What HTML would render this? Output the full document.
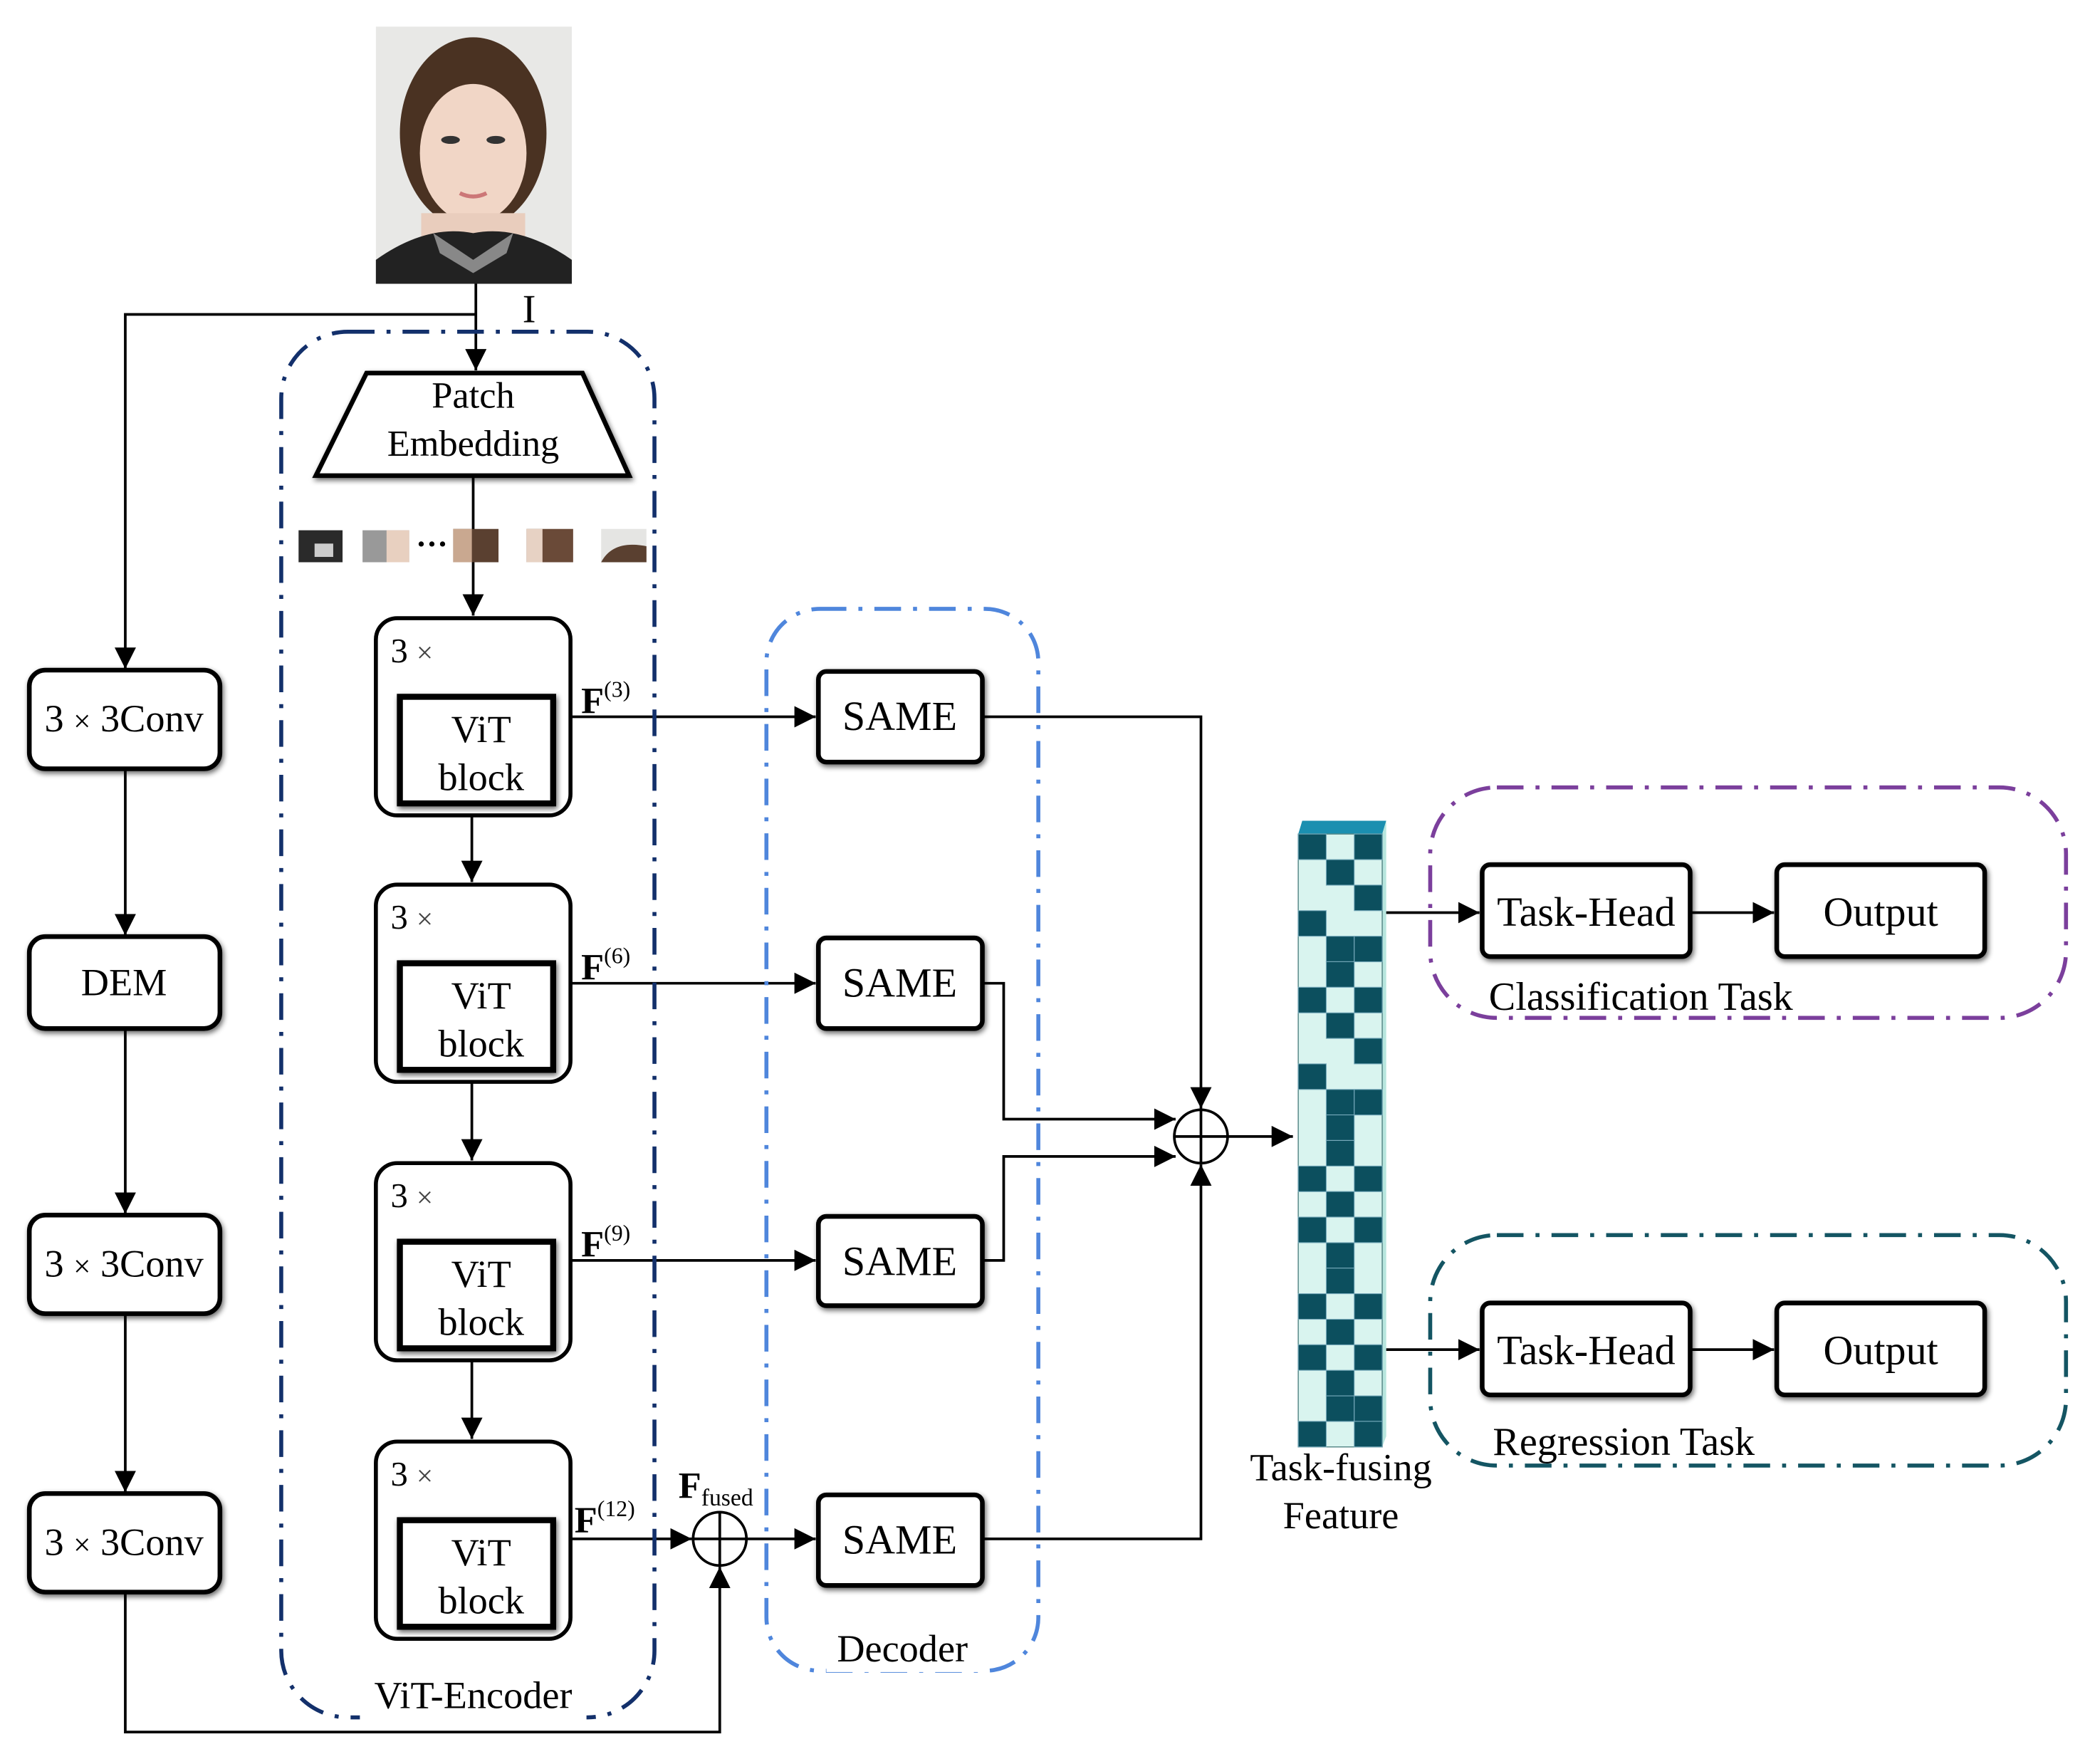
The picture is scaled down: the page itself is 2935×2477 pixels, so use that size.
<!DOCTYPE html>
<html><head><meta charset="utf-8"><style>
html,body{margin:0;padding:0;background:#fff}
svg{display:block}
text{font-family:"Liberation Serif",serif;fill:#000}
</style></head><body>
<svg width="2935" height="2477" viewBox="0 0 1568 1324" preserveAspectRatio="none" xmlns="http://www.w3.org/2000/svg">
<defs>
<marker id="b" viewBox="0 0 10 10" refX="10" refY="5" markerWidth="16" markerHeight="16" markerUnits="userSpaceOnUse" orient="auto"><path d="M0,0 L10,5 L0,10 z" fill="#000"/></marker>
<filter id="s" x="-10%" y="-10%" width="120%" height="120%"><feGaussianBlur in="SourceAlpha" stdDeviation="2"/><feOffset dx="1" dy="2"/><feComponentTransfer><feFuncA type="linear" slope="0.6"/></feComponentTransfer><feMerge><feMergeNode/><feMergeNode in="SourceGraphic"/></feMerge></filter>
</defs>

<rect x="282" y="20" width="147" height="193" fill="#e8e8e6"/>
<ellipse cx="355" cy="100" rx="55" ry="72" fill="#4a3222"/>
<ellipse cx="355" cy="115" rx="40" ry="52" fill="#f1d6c6"/>
<rect x="316" y="160" width="78" height="30" fill="#e9cdbd"/>
<path d="M282,213 L282,195 Q320,168 355,175 Q390,168 429,195 L429,213 z" fill="#222"/>
<path d="M325,175 L355,195 L385,175 L380,190 L355,205 L330,190z" fill="#888"/>
<ellipse cx="338" cy="105" rx="7" ry="3" fill="#333"/><ellipse cx="372" cy="105" rx="7" ry="3" fill="#333"/>
<path d="M345,145 Q355,150 365,145" stroke="#c77" stroke-width="3" fill="none"/>

<g stroke="#000" stroke-width="2" fill="none">
<path d="M357,213 V278" marker-end="url(#b)"/>
<path d="M357,236 H94 V502" marker-end="url(#b)"/>
<path d="M355,357 V398"/>
<path d="M355,422 V462" marker-end="url(#b)"/>
<path d="M354,612 V662" marker-end="url(#b)"/>
<path d="M354,812 V871" marker-end="url(#b)"/>
<path d="M354,1021 V1080" marker-end="url(#b)"/>
<path d="M94,577 V702" marker-end="url(#b)"/>
<path d="M94,772 V911" marker-end="url(#b)"/>
<path d="M94,986 V1120" marker-end="url(#b)"/>
<path d="M94,1195 V1300 H540 V1176" marker-end="url(#b)"/>
<path d="M428,538 H612" marker-end="url(#b)"/>
<path d="M428,738 H612" marker-end="url(#b)"/>
<path d="M428,946 H612" marker-end="url(#b)"/>
<path d="M428,1155 H519" marker-end="url(#b)"/>
<path d="M560,1155 H612" marker-end="url(#b)"/>
<path d="M737,538 H901 V832" marker-end="url(#b)"/>
<path d="M737,738 H753 V840 H882" marker-end="url(#b)"/>
<path d="M737,946 H753 V868 H882" marker-end="url(#b)"/>
<path d="M737,1155 H901 V874" marker-end="url(#b)"/>
<path d="M921,853 H970" marker-end="url(#b)"/>
<path d="M1037,685 H1110" marker-end="url(#b)"/>
<path d="M1268,685 H1331" marker-end="url(#b)"/>
<path d="M1037,1013 H1110" marker-end="url(#b)"/>
<path d="M1268,1013 H1331" marker-end="url(#b)"/>
<circle cx="540" cy="1155" r="20"/><path d="M520,1155 H560 M540,1135 V1175"/>
<circle cx="901" cy="853" r="20"/><path d="M881,853 H921 M901,833 V873"/>
</g>
<text x="392" y="242" font-size="30">I</text>

<g fill="none" stroke-width="3" stroke-dasharray="20 9 3 9">
<rect x="211" y="249" width="280" height="1040" rx="50" stroke="#13306b"/>
<rect x="575" y="457" width="204" height="797" rx="40" stroke="#4f86dc"/>
<rect x="1073" y="591" width="477" height="173" rx="50" stroke="#7b3f9c"/>
<rect x="1073" y="927" width="477" height="173" rx="50" stroke="#145563"/>
</g>
<rect x="270" y="1262" width="170" height="30" fill="#fff"/>
<text x="355" y="1282" font-size="29" text-anchor="middle">ViT-Encoder</text>
<rect x="620" y="1225" width="115" height="30" fill="#fff"/>
<text x="677" y="1247" font-size="29" text-anchor="middle">Decoder</text>
<text x="1117" y="758" font-size="30">Classification Task</text>
<text x="1120" y="1092" font-size="30">Regression Task</text>

<path d="M275,280 H437 L472,357 H237 Z" fill="#fff" stroke="#000" stroke-width="3.5" filter="url(#s)"/>
<text x="355" y="306" font-size="28" text-anchor="middle">Patch</text>
<text x="355" y="342" font-size="28" text-anchor="middle">Embedding</text>

<rect x="224" y="398" width="33" height="24" fill="#2a2a2a"/><rect x="236" y="408" width="14" height="10" fill="#ccc"/>
<rect x="272" y="398" width="35" height="24" fill="#999"/><rect x="290" y="398" width="17" height="24" fill="#e8d0c0"/>
<text x="324" y="416" font-size="24" text-anchor="middle" font-weight="bold">···</text>
<rect x="340" y="397" width="34" height="25" fill="#5a4030"/><rect x="340" y="397" width="14" height="25" fill="#c9a890"/>
<rect x="395" y="397" width="35" height="25" fill="#6a4a38"/><rect x="395" y="397" width="12" height="25" fill="#e7d2c4"/>
<rect x="451" y="397" width="34" height="25" fill="#e5e5e3"/><path d="M451,422 Q460,405 485,410 V422z" fill="#5a4030"/>

<g font-size="30">
<g transform="translate(0,0)">
<rect x="282" y="464" width="146" height="148" rx="16" fill="#fff" stroke="#000" stroke-width="3"/>
<rect x="300" y="523" width="115" height="80" fill="#fff" stroke="#000" stroke-width="4.5" filter="url(#s)"/>
<text x="293" y="497" font-size="26">3 <tspan font-size="22" fill="#444">×</tspan></text>
<text x="361" y="557" text-anchor="middle" font-size="29">ViT</text><text x="361" y="593" text-anchor="middle" font-size="29">block</text>
</g>
<g transform="translate(0,200)">
<rect x="282" y="464" width="146" height="148" rx="16" fill="#fff" stroke="#000" stroke-width="3"/>
<rect x="300" y="523" width="115" height="80" fill="#fff" stroke="#000" stroke-width="4.5" filter="url(#s)"/>
<text x="293" y="497" font-size="26">3 <tspan font-size="22" fill="#444">×</tspan></text>
<text x="361" y="557" text-anchor="middle" font-size="29">ViT</text><text x="361" y="593" text-anchor="middle" font-size="29">block</text>
</g>
<g transform="translate(0,409)">
<rect x="282" y="464" width="146" height="148" rx="16" fill="#fff" stroke="#000" stroke-width="3"/>
<rect x="300" y="523" width="115" height="80" fill="#fff" stroke="#000" stroke-width="4.5" filter="url(#s)"/>
<text x="293" y="497" font-size="26">3 <tspan font-size="22" fill="#444">×</tspan></text>
<text x="361" y="557" text-anchor="middle" font-size="29">ViT</text><text x="361" y="593" text-anchor="middle" font-size="29">block</text>
</g>
<g transform="translate(0,618)">
<rect x="282" y="464" width="146" height="148" rx="16" fill="#fff" stroke="#000" stroke-width="3"/>
<rect x="300" y="523" width="115" height="80" fill="#fff" stroke="#000" stroke-width="4.5" filter="url(#s)"/>
<text x="293" y="497" font-size="26">3 <tspan font-size="22" fill="#444">×</tspan></text>
<text x="361" y="557" text-anchor="middle" font-size="29">ViT</text><text x="361" y="593" text-anchor="middle" font-size="29">block</text>
</g>
</g>
<text x="436" y="535" font-size="28" font-weight="bold">F<tspan font-size="17" font-weight="normal" dy="-12">(3)</tspan></text>
<text x="436" y="735" font-size="28" font-weight="bold">F<tspan font-size="17" font-weight="normal" dy="-12">(6)</tspan></text>
<text x="436" y="943" font-size="28" font-weight="bold">F<tspan font-size="17" font-weight="normal" dy="-12">(9)</tspan></text>
<text x="431" y="1150" font-size="28" font-weight="bold">F<tspan font-size="17" font-weight="normal" dy="-12">(12)</tspan></text>
<text x="509" y="1124" font-size="28" font-weight="bold">F<tspan font-size="18" font-weight="normal" dy="6">fused</tspan></text>

<g stroke="#000" stroke-width="3.5" fill="#fff" filter="url(#s)">
<rect x="22" y="503" width="143" height="74" rx="12"/>
<rect x="22" y="703" width="143" height="69" rx="12"/>
<rect x="22" y="912" width="143" height="74" rx="12"/>
<rect x="22" y="1121" width="143" height="74" rx="12"/>
<rect x="614" y="504" width="123" height="68" rx="6"/>
<rect x="614" y="704" width="123" height="68" rx="6"/>
<rect x="614" y="913" width="123" height="67" rx="6"/>
<rect x="614" y="1122" width="123" height="68" rx="6"/>
<rect x="1112" y="649" width="156" height="69" rx="6"/>
<rect x="1333" y="649" width="156" height="69" rx="6"/>
<rect x="1112" y="978" width="156" height="69" rx="6"/>
<rect x="1333" y="978" width="156" height="69" rx="6"/>
</g>
<g font-size="29" text-anchor="middle">
<text x="93" y="549">3 <tspan font-size="23">×</tspan> 3Conv</text>
<text x="93" y="747">DEM</text>
<text x="93" y="958">3 <tspan font-size="23">×</tspan> 3Conv</text>
<text x="93" y="1167">3 <tspan font-size="23">×</tspan> 3Conv</text>
</g>
<g font-size="31" text-anchor="middle">
<text x="675" y="548">SAME</text>
<text x="675" y="748">SAME</text>
<text x="675" y="957">SAME</text>
<text x="675" y="1166">SAME</text>
<text x="1190" y="695">Task-Head</text>
<text x="1411" y="695">Output</text>
<text x="1190" y="1024">Task-Head</text>
<text x="1411" y="1024">Output</text>
</g>

<path d="M974,626 L977,616 H1040 L1037,626Z" fill="#1b8fb0"/>
<path d="M1037,626 L1040,616 V1078 L1037,1086Z" fill="#b8e6de"/>
<rect x="974" y="626" width="63" height="460" fill="#d9f4ef" stroke="#5a8a8a" stroke-width="0.8"/>
<g fill="#0c4f5e" stroke="#7ab" stroke-width="0.6">
<rect x="974" y="626.0" width="21" height="19.2"/><rect x="1016" y="626.0" width="21" height="19.2"/>
<rect x="995" y="645.2" width="21" height="19.2"/>
<rect x="1016" y="664.3" width="21" height="19.2"/>
<rect x="974" y="683.5" width="21" height="19.2"/>
<rect x="995" y="702.7" width="21" height="19.2"/><rect x="1016" y="702.7" width="21" height="19.2"/>
<rect x="995" y="721.8" width="21" height="19.2"/>
<rect x="974" y="741.0" width="21" height="19.2"/><rect x="1016" y="741.0" width="21" height="19.2"/>
<rect x="995" y="760.2" width="21" height="19.2"/>
<rect x="1016" y="779.3" width="21" height="19.2"/>
<rect x="974" y="798.5" width="21" height="19.2"/>
<rect x="995" y="817.7" width="21" height="19.2"/><rect x="1016" y="817.7" width="21" height="19.2"/>
<rect x="995" y="836.8" width="21" height="19.2"/>
<rect x="995" y="856.0" width="21" height="19.2"/>
<rect x="974" y="875.2" width="21" height="19.2"/><rect x="1016" y="875.2" width="21" height="19.2"/>
<rect x="995" y="894.3" width="21" height="19.2"/>
<rect x="974" y="913.5" width="21" height="19.2"/><rect x="1016" y="913.5" width="21" height="19.2"/>
<rect x="995" y="932.7" width="21" height="19.2"/>
<rect x="995" y="951.8" width="21" height="19.2"/>
<rect x="974" y="971.0" width="21" height="19.2"/><rect x="1016" y="971.0" width="21" height="19.2"/>
<rect x="995" y="990.2" width="21" height="19.2"/>
<rect x="974" y="1009.3" width="21" height="19.2"/><rect x="1016" y="1009.3" width="21" height="19.2"/>
<rect x="995" y="1028.5" width="21" height="19.2"/>
<rect x="995" y="1047.7" width="21" height="19.2"/><rect x="1016" y="1047.7" width="21" height="19.2"/>
<rect x="974" y="1066.8" width="21" height="19.2"/><rect x="1016" y="1066.8" width="21" height="19.2"/>
</g>
<text x="1006" y="1111" font-size="29" text-anchor="middle">Task-fusing</text>
<text x="1006" y="1147" font-size="29" text-anchor="middle">Feature</text>
</svg>
</body></html>
